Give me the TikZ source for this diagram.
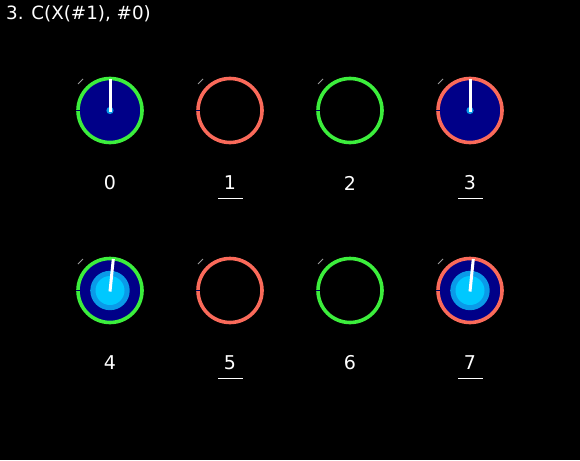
\documentclass[tikz,border=0pt]{standalone}
\usepackage{fontspec}
\usetikzlibrary{calc}
\setmainfont{DejaVu Sans}
\definecolor{ringG}{HTML}{3CEE3C}
\definecolor{ringR}{HTML}{FA6A5A}
\definecolor{navyq}{HTML}{000088}
\definecolor{midb}{HTML}{0A9AE8}
\definecolor{cyanq}{HTML}{00C8FF}
\begin{document}
\begin{tikzpicture}[x=1pt,y=-1pt,
  ring/.style={circle,draw=#1,line width=3.6pt,minimum size=64pt,inner sep=0pt},
  lbl/.style={text=white,font=\fontsize{19}{21}\selectfont,inner sep=0pt},
  needle/.style={white,line width=3pt},
  tick/.style={line width=0.8pt}]
\fill[black] (0,0) rectangle (580,460);
\useasboundingbox (0,0) rectangle (580,460);
\node[anchor=west,text=white,font=\fontsize{18.3}{20}\selectfont,inner sep=0pt] (title) at (6,14) {3. C(X(\#1), \#0)};
% state: 0 empty, 1 filled, 2 filled with inner
\foreach \n/\cx/\cy/\rc/\st/\ul in {0/110/110.5/ringG/1/0, 1/230/110.5/ringR/0/1, 2/350/110.5/ringG/0/0, 3/470/110.5/ringR/1/1,
  4/110/290.5/ringG/2/0, 5/230/290.5/ringR/0/1, 6/350/290.5/ringG/0/0, 7/470/290.5/ringR/2/1}{
  \ifnum\st>0
    \fill[navyq] (\cx,\cy) circle[radius=32];
  \fi
  \ifnum\st=2
    \fill[midb] (\cx,\cy) circle[radius=19.7];
    \fill[cyanq] (\cx,\cy) circle[radius=14.5];
    \draw[tick,midb] ($(\cx,\cy)+(-20,0)$) -- ++(2,0);
  \fi
  \node[ring=\rc] (q\n) at (\cx,\cy) {};
  \draw[tick,gray!80!white] ($(\cx,\cy)+(-32,-26.5)$) -- ++(5,-5);
  \draw[tick,navyq!70!black] ($(\cx,\cy)+(-34,0)$) -- ++(4,0);
  \ifnum\st=1
    \fill[midb] (\cx,\cy) circle[radius=3.6];
    \draw[needle] (\cx,\cy+1) -- (\cx,\cy-31.5);
  \fi
  \ifnum\st=2
    \draw[needle] (\cx,\cy+1) -- (\cx+3.3,\cy-31.5);
  \fi
  \node[lbl] (l\n) at (\cx,\cy+72.5) {\n};
  \ifnum\ul=1
    \draw[white,line width=1pt] (\cx-12,\cy+87.5) -- (\cx+12.5,\cy+87.5);
  \fi
}
\end{tikzpicture}
\end{document}
